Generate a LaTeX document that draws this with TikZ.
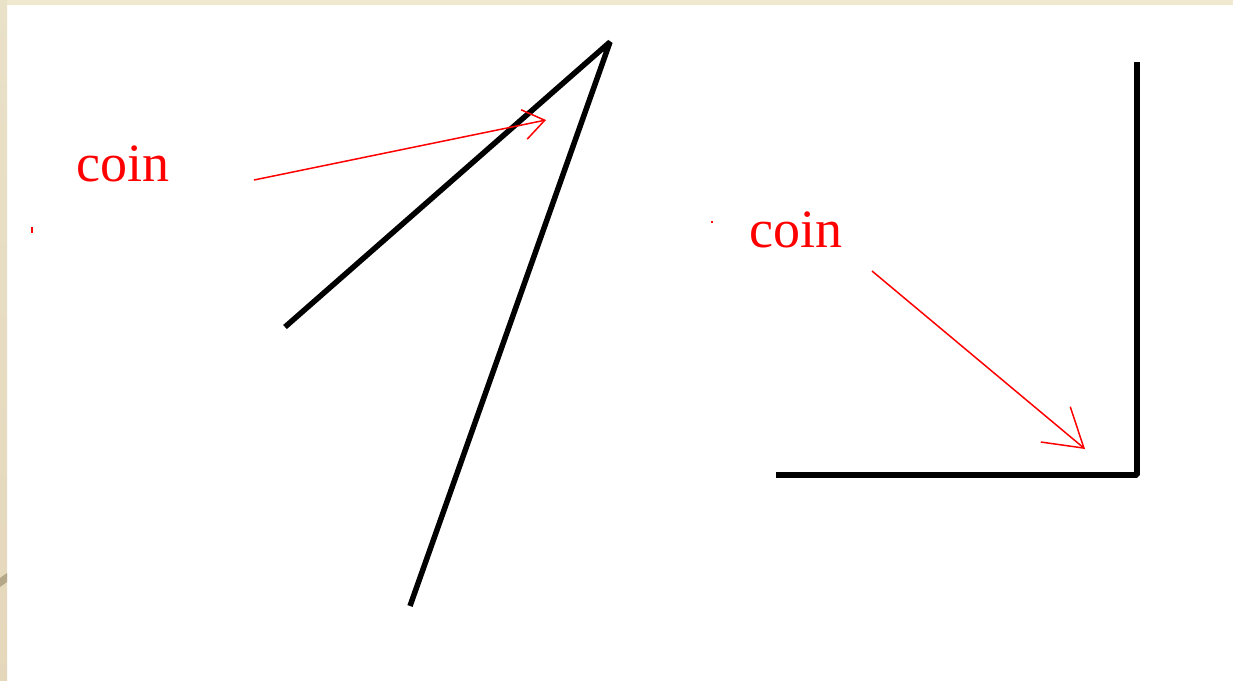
\documentclass[tikz,border=0pt]{standalone}
\usepackage{fontspec}
\setmainfont{Liberation Serif}
\usetikzlibrary{arrows.meta}
\definecolor{paper}{HTML}{F1E8D0}
\definecolor{paperL}{HTML}{E9E1C8}
\definecolor{wedge}{HTML}{B5A888}
\definecolor{pen}{HTML}{FF0000}
\tikzset{
  stroke/.style={line width=5.5pt, black, line cap=butt, line join=bevel},
  pointer/.style={line width=1.5pt, pen},
  label/.style={text=pen, font=\fontsize{54}{60}\selectfont, inner sep=0pt, anchor=base west},
}
\begin{document}
\begin{tikzpicture}[x=1pt,y=-1pt]
\useasboundingbox (0,0) rectangle (1233,680);
\fill[white] (0,0) rectangle (1233,680);
\fill[paper] (0,0) rectangle (1233,5);
\shade[top color=paperL, bottom color=paperL!90!brown] (0,0) rectangle (7,680);
\fill[wedge] (0,578) -- (7,573) -- (7,582) -- (0,587) -- cycle;
% tiny red specks
\fill[pen] (31,227) rectangle (33,233);
\fill[pen] (711,221) rectangle (713,223);
% left figure
\coordinate (a1) at (285,327);
\coordinate (apex) at (610,42);
\coordinate (a2) at (410,606);
\draw[stroke] (a1) -- (apex) -- (a2);
% right figure
\coordinate (r1) at (1137,62);
\coordinate (corner) at (1137,475);
\coordinate (r2) at (776,475);
\draw[stroke] (r1) -- (corner) -- (r2);
% labels
\node[label] (coin1) at (76,181) {coin};
\node[label] (coin2) at (749,247) {coin};
\coordinate (s1) at (254,180);
\coordinate (t1) at (546,120);
\coordinate (s2) at (872,271);
\coordinate (t2) at (1085,449);
\draw[pointer, -{Straight Barb[length=21pt,width=30pt,line width=1.5pt]}] (s1) -- (t1);
\draw[pointer, -{Straight Barb[length=37pt,width=46pt,line width=1.5pt]}] (s2) -- (t2);
\end{tikzpicture}
\end{document}
